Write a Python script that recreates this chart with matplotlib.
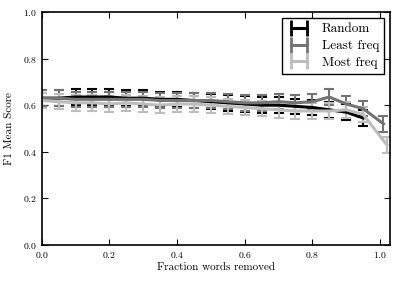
import matplotlib
matplotlib.use("Agg")
import matplotlib.pyplot as plt
from matplotlib.lines import Line2D

plt.rcParams['font.family'] = ['cmr10', 'DejaVu Serif']
plt.rcParams['axes.formatter.use_mathtext'] = True
plt.rcParams['mathtext.fontset'] = 'cm'

x_random = [0.0, 0.05, 0.1, 0.15, 0.2, 0.25, 0.3, 0.35, 0.4, 0.45, 0.5, 0.55, 0.6, 0.65, 0.7, 0.75, 0.8, 0.85, 0.9, 0.95]
y_random = [0.63, 0.63, 0.635, 0.635, 0.635, 0.63, 0.63, 0.625, 0.625, 0.62, 0.615, 0.61, 0.605, 0.60, 0.60, 0.595, 0.59, 0.58, 0.57, 0.545]
e_random = [0.033] * len(x_random)

x_least = [0.0, 0.05, 0.1, 0.15, 0.2, 0.25, 0.3, 0.35, 0.4, 0.45, 0.5, 0.55, 0.6, 0.65, 0.7, 0.75, 0.8, 0.85, 0.9, 0.95, 1.01]
y_least = [0.63, 0.63, 0.625, 0.625, 0.625, 0.625, 0.625, 0.62, 0.62, 0.62, 0.62, 0.615, 0.61, 0.61, 0.615, 0.61, 0.615, 0.635, 0.605, 0.585, 0.52]
e_least = [0.033] * len(x_least)

x_most = [0.0, 0.05, 0.1, 0.15, 0.2, 0.25, 0.3, 0.35, 0.4, 0.45, 0.5, 0.55, 0.6, 0.65, 0.7, 0.75, 0.8, 0.85, 0.9, 0.95, 1.02]
y_most = [0.62, 0.615, 0.61, 0.61, 0.605, 0.61, 0.605, 0.60, 0.605, 0.605, 0.60, 0.595, 0.59, 0.585, 0.58, 0.575, 0.575, 0.575, 0.58, 0.56, 0.43]
e_most = [0.033] * len(x_most)

labels = ["Random", "Least freq", "Most freq"]
colors = ["#000000", "#737373", "#bdbdbd"]

fig = plt.figure(figsize=(3.99, 2.83), dpi=100)
ax = fig.add_axes([0.1045, 0.134, 0.8735, 0.824])

handles = []
for xs, ys, es, lab, c in zip([x_random, x_least, x_most], [y_random, y_least, y_most],
                              [e_random, e_least, e_most], labels, colors):
    ax.errorbar(xs, ys, yerr=es, color=c, lw=2.2, elinewidth=1.5, capsize=3.5, capthick=1.5)
    handles.append(Line2D([0, 1], [0, 0], color=c, lw=2.2, marker='|', markersize=11, mew=2.0, label=lab))

ax.set_xlim(0, 1.03)
ax.set_ylim(0, 1.0)
ax.set_xticks([0.0, 0.2, 0.4, 0.6, 0.8, 1.0])
ax.set_yticks([0.0, 0.2, 0.4, 0.6, 0.8, 1.0])
ax.tick_params(direction='in', top=True, right=True, labelsize=7, length=4, width=0.8)
for s in ax.spines.values():
    s.set_linewidth(1.2)
ax.set_xlabel("Fraction words removed", fontsize=8, labelpad=2)
ax.set_ylabel("F1 Mean Score", fontsize=8, labelpad=6)
leg = ax.legend(handles=handles, loc='upper right', fontsize=9.5, fancybox=False, framealpha=1,
                edgecolor='black', numpoints=2, handlelength=1.8, handletextpad=0.8,
                borderaxespad=0.45, labelspacing=0.35)
leg.get_frame().set_linewidth(1.0)

fig.savefig("out.png", dpi=100)
